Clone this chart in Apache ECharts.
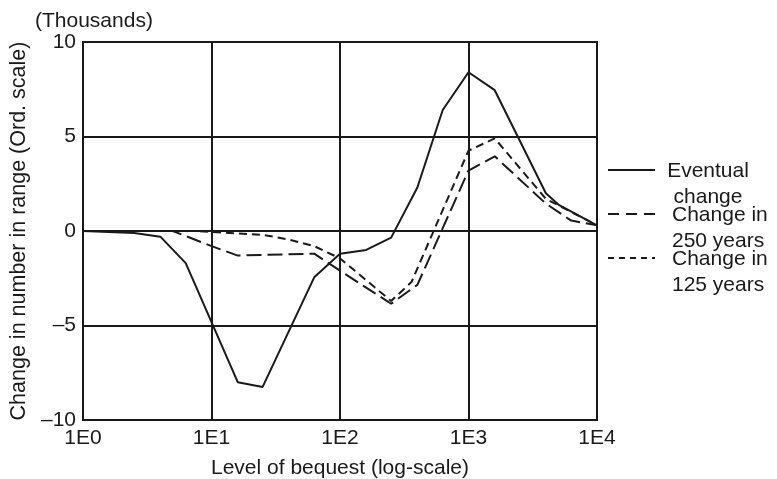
<!DOCTYPE html>
<html>
<head>
<meta charset="utf-8">
<script src="https://cdn.jsdelivr.net/npm/echarts@6/dist/echarts.min.js"></script>
<style>
  html, body { margin: 0; padding: 0; background: #fff; }
  #chart { width: 777px; height: 479px; }
</style>
</head>
<body>
<div id="chart"></div>
<script>
// bequest levels (x, log scale) and change in thousands (y)
const eventualX = [1, 2.5, 4, 6.3, 16, 25, 63, 100, 160, 250, 400, 630, 1000, 1600, 4000, 5000, 10000]
const eventualY = [0, -0.1, -0.3, -1.7, -8.0, -8.25, -2.45, -1.2, -1.0, -0.35, 2.3, 6.4, 8.4, 7.45, 2.0, 1.4, 0.3]

const y250X = [1, 5, 10, 16, 63, 100, 250, 400, 1000, 1600, 4000, 6300, 10000]
const y250Y = [0, 0, -0.8, -1.3, -1.2, -2.1, -3.85, -2.85, 3.2, 3.95, 1.45, 0.55, 0.3]

const y125X = [1, 7.5, 10, 25, 40, 63, 100, 250, 360, 1000, 1600, 4000, 10000]
const y125Y = [0, 0, -0.05, -0.2, -0.45, -0.8, -1.45, -3.7, -2.7, 4.25, 4.9, 1.7, 0.3]

const yTicks = [-10, -5, 0, 5, 10]
const xTickLabels = ['1E0', '1E1', '1E2', '1E3', '1E4']

const legendNames = ['Eventual\nchange', 'Change in\n250 years', 'Change in\n125 years']

const ink = '#1a1a1a'
const font = 'Liberation Sans, Arial, sans-serif'

const pair = (xs, ys) => xs.map((x, i) => [x, ys[i]])

const chart = echarts.init(document.getElementById('chart'), null, { renderer: 'canvas' })

// legend drawn by hand: first row centred, the others left aligned
const legendRows = [
  { y: 170, dash: null, x: 708, align: 'center' },
  { y: 214, dash: [11, 7], x: 672, align: 'left' },
  { y: 258, dash: [6, 5], x: 672, align: 'left' }
]

const graphics = [
  {
    type: 'text',
    left: 35,
    top: 11,
    style: { text: '(Thousands)', font: '21px ' + font, fill: ink }
  }
]
legendRows.forEach((row, i) => {
  graphics.push({
    type: 'line',
    shape: { x1: 608, y1: row.y, x2: 655, y2: row.y },
    style: { stroke: ink, lineWidth: 1.8, lineDash: row.dash }
  })
  graphics.push({
    type: 'text',
    x: row.x,
    y: row.y - 12,
    style: {
      text: legendNames[i],
      font: '21px ' + font,
      fill: ink,
      align: row.align,
      verticalAlign: 'top',
      lineHeight: 26
    }
  })
})

const option = {
  animation: false,
  grid: {
    left: 83,
    right: 180,
    top: 42,
    bottom: 59,
    outerBoundsMode: 'none',
    show: true,
    borderColor: ink,
    borderWidth: 2
  },
  xAxis: {
    type: 'log',
    logBase: 10,
    min: 1,
    max: 10000,
    name: 'Level of bequest (log-scale)',
    nameLocation: 'middle',
    nameGap: 38,
    nameTextStyle: { color: ink, fontSize: 21, fontFamily: font },
    axisLine: { show: true, lineStyle: { color: ink, width: 2 } },
    axisTick: { show: false },
    minorTick: { show: false },
    splitLine: { show: true, lineStyle: { color: ink, width: 2 } },
    axisLabel: {
      color: ink,
      fontSize: 21,
      fontFamily: font,
      margin: 8,
      formatter: v => xTickLabels[Math.round(Math.log10(v))]
    }
  },
  yAxis: {
    type: 'value',
    min: yTicks[0],
    max: yTicks[yTicks.length - 1],
    interval: 5,
    name: 'Change in number in range (Ord. scale)',
    nameLocation: 'middle',
    nameGap: 50,
    nameTextStyle: { color: ink, fontSize: 21.5, fontFamily: font },
    axisLine: { show: true, lineStyle: { color: ink, width: 2 } },
    axisTick: { show: false },
    splitLine: { show: true, lineStyle: { color: ink, width: 2 } },
    axisLabel: {
      color: ink,
      fontSize: 21,
      fontFamily: font,
      margin: 7,
      formatter: v => (v < 0 ? '\u2013' + (-v) : String(v))
    }
  },
  series: [
    {
      name: 'Eventual change',
      type: 'line',
      data: pair(eventualX, eventualY),
      showSymbol: false,
      lineStyle: { color: ink, width: 2 }
    },
    {
      name: 'Change in 250 years',
      type: 'line',
      data: pair(y250X, y250Y),
      showSymbol: false,
      lineStyle: { color: ink, width: 2, type: [15, 6] }
    },
    {
      name: 'Change in 125 years',
      type: 'line',
      data: pair(y125X, y125Y),
      showSymbol: false,
      lineStyle: { color: ink, width: 2, type: [8, 5] }
    }
  ],
  graphic: graphics
}

chart.setOption(option)
</script>
</body>
</html>
